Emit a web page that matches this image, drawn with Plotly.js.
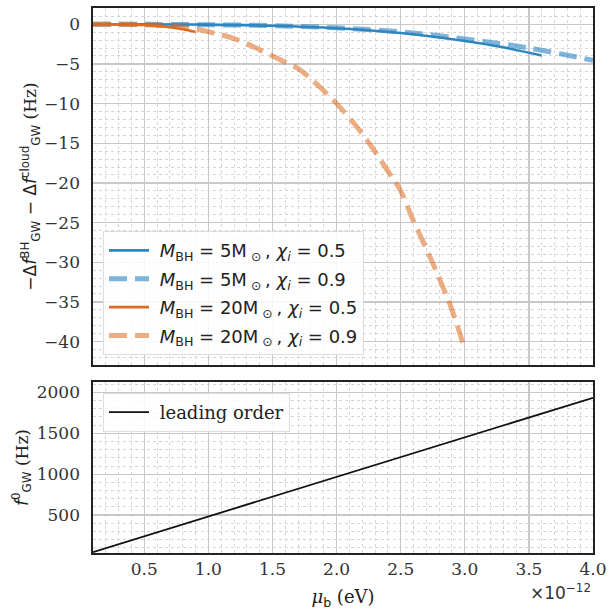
<!DOCTYPE html>
<html>
<head>
<meta charset="utf-8">
<script src="https://cdn.plot.ly/plotly-3.0.1.min.js"></script>
<style>html,body{margin:0;padding:0;background:#fff;}</style>
</head>
<body>
<div id="chart" style="width:609px;height:612px;"></div>
<script>
// mu_b in units of 1e-12 eV
const mu5a = [0.1, 0.5, 1.0, 1.5, 2.0, 2.5, 3.0, 3.3, 3.6];
const df5a = [0, -0.01, -0.05, -0.19, -0.5, -1.1, -2.1, -2.9, -3.95];
const mu5b = [0.1, 0.5, 1.0, 1.5, 2.0, 2.5, 3.0, 3.5, 4.0];
const df5b = [0, -0.01, -0.06, -0.18, -0.45, -0.95, -1.85, -3.0, -4.55];
const mu20a = [0.1, 0.3, 0.5, 0.6, 0.7, 0.8, 0.9];
const df20a = [0, -0.02, -0.1, -0.2, -0.38, -0.63, -0.97];
const mu20b = [0.1, 0.5, 0.8, 1.0, 1.2, 1.4, 1.6, 1.7, 1.8, 2.0, 2.2, 2.4, 2.5, 2.6, 2.7, 2.8, 2.9, 3.0];
const df20b = [0, -0.05, -0.35, -0.95, -1.8, -3.2, -4.8, -5.6, -6.9, -10.0, -13.8, -18.5, -21.0, -24.8, -28.3, -32.0, -36.0, -41.0];
const muLO = [0.1, 1.0, 2.0, 3.0, 4.0];
const fLO = [48, 483, 967, 1451, 1934];
const legendNames = [
  '\u00a0<i>M</i><sub>BH</sub>\u00a0=\u00a05M<sub>\u00a0⊙</sub>\u2009,\u00a0<i>χ<sub>i</sub></i>\u00a0=\u00a00.5',
  '\u00a0<i>M</i><sub>BH</sub>\u00a0=\u00a05M<sub>\u00a0⊙</sub>\u2009,\u00a0<i>χ<sub>i</sub></i>\u00a0=\u00a00.9',
  '\u00a0<i>M</i><sub>BH</sub>\u00a0=\u00a020M<sub>\u00a0⊙</sub>\u2009,\u00a0<i>χ<sub>i</sub></i>\u00a0=\u00a00.5',
  '\u00a0<i>M</i><sub>BH</sub>\u00a0=\u00a020M<sub>\u00a0⊙</sub>\u2009,\u00a0<i>χ<sub>i</sub></i>\u00a0=\u00a00.9'
];

const blue = '#2e86c1', blueL = 'rgba(46,134,193,0.62)';
const orange = '#dd6a1e', orangeL = 'rgba(221,106,30,0.55)';

const traces = [
  {x: mu5a, y: df5a, mode: 'lines', line: {color: blue, width: 2.6, shape: 'spline'}, name: legendNames[0], legendgroup: 'a', xaxis: 'x', yaxis: 'y', legend: 'legend'},
  {x: mu5b, y: df5b, mode: 'lines', line: {color: blueL, width: 5, dash: '18px,8px', shape: 'spline'}, name: legendNames[1], legendgroup: 'b', xaxis: 'x', yaxis: 'y', legend: 'legend'},
  {x: mu20a, y: df20a, mode: 'lines', line: {color: orange, width: 2.6, shape: 'spline'}, name: legendNames[2], legendgroup: 'c', xaxis: 'x', yaxis: 'y', legend: 'legend'},
  {x: mu20b, y: df20b, mode: 'lines', line: {color: orangeL, width: 5, dash: '18px,8px', shape: 'spline'}, name: legendNames[3], legendgroup: 'd', xaxis: 'x', yaxis: 'y', legend: 'legend'},
  {x: muLO, y: fLO, mode: 'lines', line: {color: '#111', width: 1.8}, name: '\u00a0leading order', xaxis: 'x2', yaxis: 'y2', legend: 'legend2'}
];

const tickFont = {family: 'DejaVu Serif', size: 17, color: '#333'};
const minorGrid = (d) => ({dtick: d, showgrid: true, gridcolor: '#d6d6d6', griddash: 'dot', gridwidth: 1});
const gridCommon = {
  showgrid: true, gridcolor: '#c8c8c8', gridwidth: 1.3,
  showline: true, linecolor: '#222', linewidth: 1.6, mirror: true,
  ticks: '', zeroline: false, tickfont: tickFont
};

const layout = {
  width: 609, height: 612,
  margin: {l: 93, r: 16, t: 8, b: 59},
  paper_bgcolor: '#fff', plot_bgcolor: '#fff',
  showlegend: true,
  xaxis: Object.assign({}, gridCommon, {
    domain: [0, 1], anchor: 'y', range: [0.1, 4.0], tick0: 0.5, dtick: 0.5,
    showticklabels: false, matches: 'x2', minor: minorGrid(0.1)
  }),
  yaxis: Object.assign({}, gridCommon, {
    domain: [0.345, 1], anchor: 'x', range: [-42.95, 2.05], tick0: 0, dtick: 5,
    minor: minorGrid(1), ticklabelstandoff: 8,
    title: {
      text: '−Δ<i>f</i><sup>BH</sup><sub>GW</sub> − Δ<i>f</i><sup>cloud</sup><sub>GW</sub> <span style="font-family:DejaVu Serif">(Hz)</span>',
      font: {family: 'DejaVu Sans', size: 17, color: '#222'}, standoff: 3
    }
  }),
  xaxis2: Object.assign({}, gridCommon, {
    domain: [0, 1], anchor: 'y2', range: [0.1, 4.0], tick0: 0.5, dtick: 0.5, tickformat: '.1f',
    minor: minorGrid(0.1),
    title: {
      text: '<i>μ</i><sub><span style="font-family:DejaVu Sans">b</span></sub> (eV)',
      font: {family: 'DejaVu Serif', size: 18, color: '#222'}, standoff: 12
    }
  }),
  yaxis2: Object.assign({}, gridCommon, {
    domain: [0, 0.3138], anchor: 'x2', range: [37, 2127], tick0: 0, dtick: 500,
    minor: minorGrid(100), ticklabelstandoff: 8,
    title: {
      text: '<i>f</i><sup>0</sup><sub>GW</sub> <span style="font-family:DejaVu Serif">(Hz)</span>',
      font: {family: 'DejaVu Sans', size: 17, color: '#222'}, standoff: 4
    }
  }),
  legend: {
    x: 0.02, y: 0.363, xanchor: 'left', yanchor: 'bottom',
    bgcolor: 'rgba(255,255,255,0.85)', bordercolor: '#dcdcdc', borderwidth: 1,
    font: {family: 'DejaVu Sans', size: 18, color: '#222'},
    tracegroupgap: 2, itemwidth: 40
  },
  legend2: {
    x: 0.02, y: 0.2936, xanchor: 'left', yanchor: 'top',
    bgcolor: 'rgba(255,255,255,0.85)', bordercolor: '#dcdcdc', borderwidth: 1,
    font: {family: 'DejaVu Serif', size: 18, color: '#222'},
    itemwidth: 40
  },
  annotations: [{
    xref: 'paper', yref: 'paper', x: 1.0, y: 0, xanchor: 'right', yanchor: 'top',
    yshift: -26, showarrow: false,
    text: '×10<sup>−12</sup>', font: {family: 'DejaVu Sans', size: 17, color: '#333'}
  }]
};

Plotly.newPlot('chart', traces, layout, {displayModeBar: false, staticPlot: true});
</script>
</body>
</html>
